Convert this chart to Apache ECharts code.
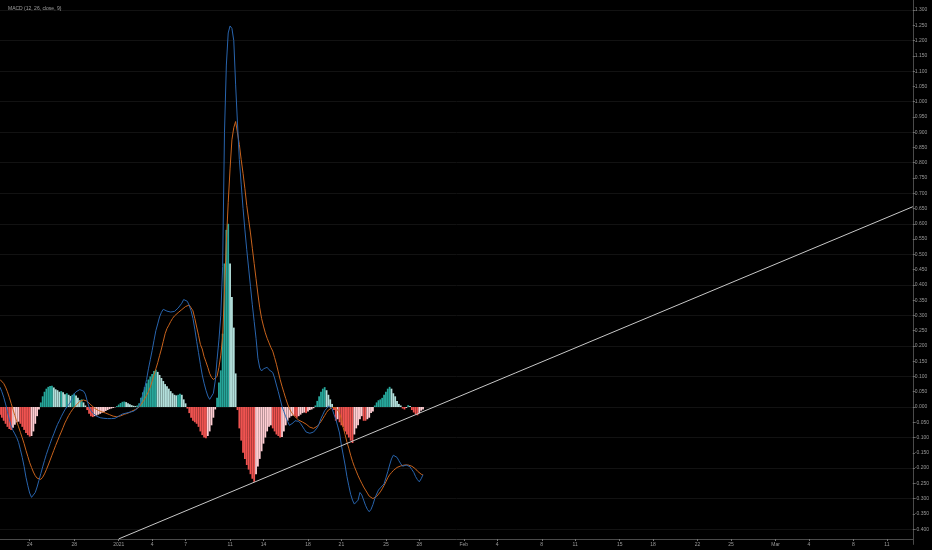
<!DOCTYPE html>
<html>
<head>
<meta charset="utf-8">
<script src="https://cdn.jsdelivr.net/npm/echarts@6/dist/echarts.min.js"></script>
<style>
html,body{margin:0;padding:0;background:#000;}
#c{width:932px;height:550px;}
</style>
</head>
<body>
<div id="c"></div>
<script>
// ---- data (4-hour bars starting 2020-12-21 08:00 UTC) ----
const firstBar = '2020-12-21 08:00';
const axisEnd = '2021-03-13 08:00';
const barHours = 4;

const macd = [
0.065,0.05,0.032,0.01,-0.015,-0.04,-0.062,-0.077,-0.088,-0.1,
-0.116,-0.14,-0.165,-0.195,-0.23,-0.258,-0.282,-0.296,-0.295,-0.28,
-0.262,-0.24,-0.218,-0.196,-0.175,-0.155,-0.137,-0.12,-0.103,-0.088,
-0.072,-0.057,-0.045,-0.032,-0.02,-0.009,0.0,0.008,0.016,0.03,
0.043,0.05,0.055,0.057,0.056,0.052,0.042,0.02,0.0,-0.012,
-0.02,-0.026,-0.03,-0.033,-0.035,-0.036,-0.037,-0.037,-0.038,-0.038,
-0.038,-0.038,-0.037,-0.034,-0.03,-0.026,-0.023,-0.021,-0.02,-0.019,
-0.017,-0.016,-0.014,-0.01,-0.005,0.002,0.02,0.042,0.062,0.09,
0.125,0.155,0.185,0.218,0.25,0.272,0.295,0.31,0.32,0.321,
0.314,0.31,0.311,0.312,0.313,0.318,0.324,0.33,0.34,0.352,
0.356,0.346,0.332,0.315,0.29,0.255,0.215,0.178,0.14,0.105,
0.078,0.055,0.036,0.025,0.025,0.045,0.085,0.155,0.22,0.3,
0.46,0.9,1.12,1.225,1.248,1.24,1.2,1.055,0.93,0.81,
0.73,0.65,0.58,0.515,0.455,0.395,0.335,0.28,0.225,0.16,
0.128,0.118,0.125,0.13,0.13,0.122,0.12,0.113,0.095,0.072,
0.05,0.026,0.002,-0.015,-0.032,-0.047,-0.06,-0.062,-0.052,-0.045,
-0.043,-0.047,-0.054,-0.06,-0.073,-0.082,-0.085,-0.086,-0.086,-0.082,
-0.076,-0.068,-0.055,-0.038,-0.025,-0.012,-0.005,0.003,0.007,-0.005,
-0.024,-0.04,-0.062,-0.085,-0.125,-0.157,-0.19,-0.228,-0.258,-0.286,
-0.305,-0.318,-0.322,-0.305,-0.28,-0.288,-0.305,-0.322,-0.335,-0.343,
-0.335,-0.32,-0.3,-0.285,-0.272,-0.265,-0.26,-0.252,-0.232,-0.212,
-0.19,-0.17,-0.158,-0.157,-0.165,-0.176,-0.186,-0.194,-0.193,-0.19,
-0.193,-0.196,-0.205,-0.214,-0.228,-0.238,-0.245,-0.235,-0.222
];

const signal = [
0.09,0.085,0.077,0.065,0.05,0.032,0.012,-0.008,-0.028,-0.047,
-0.065,-0.083,-0.101,-0.12,-0.142,-0.162,-0.182,-0.198,-0.213,-0.225,
-0.233,-0.238,-0.237,-0.23,-0.219,-0.205,-0.19,-0.174,-0.158,-0.142,
-0.126,-0.111,-0.096,-0.082,-0.067,-0.052,-0.04,-0.028,-0.018,-0.009,
-0.001,0.006,0.012,0.018,0.021,0.023,0.023,0.019,0.013,0.007,
0.002,-0.004,-0.008,-0.011,-0.013,-0.016,-0.018,-0.02,-0.023,-0.025,
-0.027,-0.03,-0.032,-0.032,-0.031,-0.029,-0.027,-0.024,-0.022,-0.02,
-0.017,-0.014,-0.011,-0.008,-0.005,0.0,0.008,0.017,0.027,0.038,
0.05,0.065,0.085,0.105,0.125,0.145,0.168,0.19,0.215,0.24,
0.257,0.268,0.28,0.29,0.298,0.304,0.309,0.314,0.319,0.325,
0.329,0.333,0.334,0.328,0.315,0.29,0.262,0.235,0.205,0.19,
0.165,0.148,0.13,0.11,0.097,0.09,0.088,0.1,0.13,0.17,
0.23,0.38,0.54,0.67,0.78,0.875,0.915,0.935,0.93,0.86,
0.81,0.765,0.715,0.66,0.615,0.57,0.52,0.47,0.42,0.37,
0.325,0.29,0.265,0.243,0.225,0.21,0.195,0.183,0.162,0.14,
0.115,0.09,0.068,0.048,0.028,0.01,-0.005,-0.017,-0.025,-0.032,
-0.038,-0.043,-0.046,-0.049,-0.052,-0.056,-0.061,-0.066,-0.069,-0.07,
-0.068,-0.063,-0.057,-0.048,-0.038,-0.028,-0.018,-0.01,-0.005,-0.002,
0.0,-0.002,-0.008,-0.02,-0.04,-0.068,-0.09,-0.115,-0.135,-0.158,
-0.178,-0.195,-0.21,-0.225,-0.238,-0.25,-0.262,-0.272,-0.282,-0.292,
-0.298,-0.3,-0.298,-0.293,-0.287,-0.278,-0.268,-0.257,-0.245,-0.232,
-0.222,-0.215,-0.208,-0.202,-0.198,-0.195,-0.193,-0.192,-0.19,-0.19,
-0.19,-0.191,-0.194,-0.198,-0.203,-0.21,-0.215,-0.22,-0.223
];

const histogram = [
-0.025,-0.035,-0.045,-0.055,-0.065,-0.072,-0.075,-0.068,-0.058,-0.05,
-0.048,-0.055,-0.065,-0.075,-0.085,-0.092,-0.097,-0.095,-0.08,-0.055,
-0.03,-0.008,0.015,0.035,0.05,0.06,0.066,0.069,0.07,0.064,
0.058,0.055,0.05,0.052,0.048,0.042,0.045,0.04,0.036,0.04,
0.044,0.038,0.03,0.022,0.025,0.015,0.005,-0.01,-0.022,-0.03,
-0.033,-0.03,-0.028,-0.025,-0.022,-0.019,-0.016,-0.013,-0.01,-0.007,
-0.005,-0.003,-0.001,0.003,0.008,0.013,0.017,0.018,0.016,0.012,
0.009,0.006,0.004,0.003,0.005,0.012,0.03,0.048,0.065,0.078,
0.09,0.1,0.108,0.118,0.122,0.115,0.105,0.095,0.085,0.075,
0.068,0.06,0.052,0.045,0.04,0.038,0.04,0.043,0.04,0.025,
0.012,-0.005,-0.02,-0.035,-0.045,-0.05,-0.055,-0.065,-0.08,-0.092,
-0.1,-0.102,-0.095,-0.08,-0.06,-0.035,-0.008,0.03,0.08,0.12,
0.24,0.47,0.58,0.6,0.47,0.36,0.26,0.11,-0.01,-0.07,
-0.11,-0.15,-0.17,-0.19,-0.205,-0.22,-0.235,-0.245,-0.22,-0.195,
-0.17,-0.145,-0.12,-0.1,-0.08,-0.065,-0.06,-0.07,-0.08,-0.09,
-0.095,-0.1,-0.098,-0.08,-0.06,-0.045,-0.035,-0.03,-0.028,-0.03,
-0.035,-0.03,-0.025,-0.02,-0.018,-0.02,-0.015,-0.01,-0.008,-0.004,
0.005,0.02,0.035,0.05,0.06,0.065,0.055,0.04,0.025,0.01,
-0.01,-0.045,-0.04,-0.05,-0.06,-0.065,-0.08,-0.09,-0.1,-0.11,
-0.118,-0.09,-0.07,-0.06,-0.04,-0.03,-0.045,-0.045,-0.04,-0.035,
-0.02,-0.015,0.005,0.015,0.022,0.025,0.03,0.04,0.05,0.06,
0.066,0.06,0.045,0.035,0.02,0.01,0.005,-0.005,-0.008,-0.003,
0.006,0.003,-0.01,-0.018,-0.024,-0.027,-0.02,-0.012,-0.008
];

// trend line drawn on the pane (two anchor points: time, value)
const trendLine = [['2021-01-01 00:00', -0.432], ['2021-03-13 08:00', 0.656]];

// date-axis tick labels
const tickLabels = [
['2020-12-24 00:00','24'],['2020-12-28 00:00','28'],['2021-01-01 00:00','2021'],
['2021-01-04 00:00','4'],['2021-01-07 00:00','7'],['2021-01-11 00:00','11'],
['2021-01-14 00:00','14'],['2021-01-18 00:00','18'],['2021-01-21 00:00','21'],
['2021-01-25 00:00','25'],['2021-01-28 00:00','28'],['2021-02-01 00:00','Feb'],
['2021-02-04 00:00','4'],['2021-02-08 00:00','8'],['2021-02-11 00:00','11'],
['2021-02-15 00:00','15'],['2021-02-18 00:00','18'],['2021-02-22 00:00','22'],
['2021-02-25 00:00','25'],['2021-03-01 00:00','Mar'],['2021-03-04 00:00','4'],
['2021-03-08 00:00','8'],['2021-03-11 00:00','11']
];

const title = 'MACD (12, 26, close, 9)';

// ---- build category axis (every 4h slot) ----
function parseUTC(s){
  const [d,t] = s.split(' ');
  const [Y,M,D] = d.split('-').map(Number);
  const [h,m] = t.split(':').map(Number);
  return Date.UTC(Y, M-1, D, h, m);
}
function pad(n){ return (n<10?'0':'')+n; }
function fmt(ms){
  const d = new Date(ms);
  return d.getUTCFullYear()+'-'+pad(d.getUTCMonth()+1)+'-'+pad(d.getUTCDate())+' '+pad(d.getUTCHours())+':'+pad(d.getUTCMinutes());
}
const categories = [];
for (let t = parseUTC(firstBar); t <= parseUTC(axisEnd); t += barHours*3600*1000) categories.push(fmt(t));

const labelMap = {};
tickLabels.forEach(([k,v]) => labelMap[k] = v);

const histColors = {posUp:'#26a69a', posDown:'#b2dfdb', negDown:'#ef5350', negUp:'#ffcdd2'};

const chart = echarts.init(document.getElementById('c'), null, {renderer:'canvas'});
const font = 'Liberation Sans';
chart.setOption({
  backgroundColor: '#000000',
  animation: false,
  title: {
    text: title, left: 3, top: 1,
    textStyle: {fontSize: 5, color: '#a0a0a0', fontWeight: 'normal', fontFamily: font}
  },
  grid: {left: 0, right: 15.3, top: 0, bottom: 5.6, containLabel: false},
  xAxis: {
    type: 'category',
    data: categories,
    boundaryGap: false,
    offset: -5.4,
    axisLine: {show: true, onZero: false, lineStyle: {color: '#4a4a4a', width: 1}},
    axisTick: {show: true, length: 2, interval: (i, v) => labelMap[v] !== undefined, lineStyle: {color: '#777'}},
    axisLabel: {
      show: true, interval: (i, v) => labelMap[v] !== undefined,
      formatter: v => labelMap[v] || '', fontSize: 5, color: '#9a9a9a', margin: 3, fontFamily: font,
      hideOverlap: false
    },
    splitLine: {show: false}
  },
  yAxis: {
    type: 'value',
    position: 'right',
    min: -0.45, max: 1.333, interval: 0.05,
    axisLine: {show: true, lineStyle: {color: '#4a4a4a', width: 1}},
    axisTick: {show: true, length: 2, lineStyle: {color: '#777'}},
    axisLabel: {
      show: true, fontSize: 5, color: '#9a9a9a', margin: 2, fontFamily: font,
      showMinLabel: false, showMaxLabel: false,
      formatter: v => { const r = Math.round(v*1000)/1000; if (Math.abs(r*20 - Math.round(r*20)) > 1e-6) return ''; return (Math.abs(r) < 1e-9 ? 0 : r).toFixed(3); }
    },
    splitLine: {show: true, lineStyle: {color: ['rgba(0,0,0,0)', '#121212'], width: 1}}
  },
  series: [
    {
      name: 'Histogram', type: 'bar', data: histogram, barWidth: 1.8,
      itemStyle: {
        color: p => {
          const v = histogram[p.dataIndex];
          const prev = p.dataIndex > 0 ? histogram[p.dataIndex-1] : v;
          if (v >= 0) return v >= prev ? histColors.posUp : histColors.posDown;
          return v <= prev ? histColors.negDown : histColors.negUp;
        }
      },
      z: 1
    },
    {
      name: 'MACD', type: 'line', data: macd, symbol: 'none', smooth: false,
      lineStyle: {color: '#2864ad', width: 1}, z: 3
    },
    {
      name: 'Signal', type: 'line', data: signal, symbol: 'none', smooth: false,
      lineStyle: {color: '#c9631c', width: 1}, z: 2
    },
    {
      name: 'Trend', type: 'line', data: trendLine, symbol: 'none',
      lineStyle: {color: '#c8c8c8', width: 1}, z: 4
    }
  ]
});
</script>
</body>
</html>
